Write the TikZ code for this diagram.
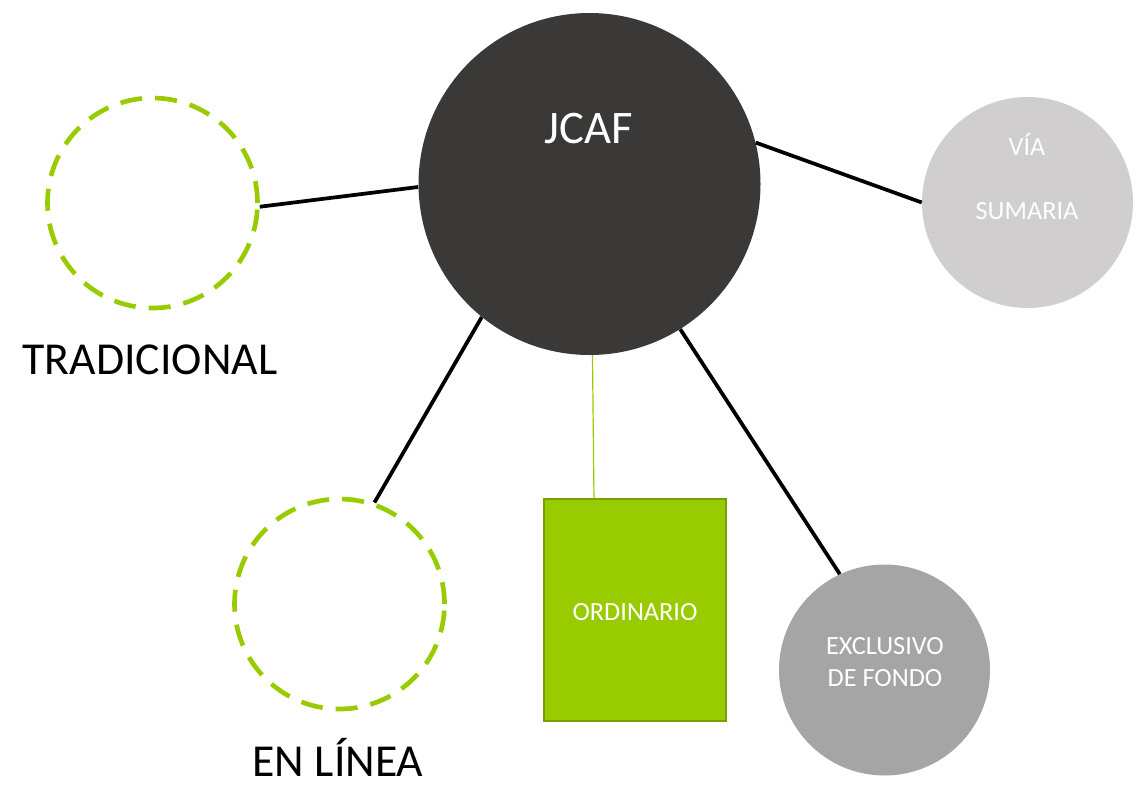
\documentclass[tikz,border=0pt]{standalone}
\usepackage{fontspec}
\setmainfont{Carlito}
\usetikzlibrary{calc}
\definecolor{darkc}{HTML}{3A3938}
\definecolor{lightg}{HTML}{D0CECE}
\definecolor{midg}{HTML}{A5A5A5}
\definecolor{grn}{HTML}{99CC00}
\definecolor{grnd}{HTML}{77A000}
\tikzset{
  bigc/.style={circle, fill=darkc, inner sep=0pt, minimum size=256.5pt},
  dashc/.style={circle, draw=grn, line width=3.5pt, dash pattern=on 16.5pt off 9.8pt, inner sep=0pt, minimum size=157.5pt},
  grayc/.style={circle, inner sep=0pt, minimum size=158.25pt},
  ordbox/.style={rectangle, fill=grn, draw=grnd, line width=1.5pt, inner sep=0pt, minimum width=136.5pt, minimum height=166.5pt},
  bigtxt/.style={font=\fontsize{34.3}{40}\selectfont, anchor=base, inner sep=0pt},
  smalltxt/.style={font=\fontsize{19.7}{24}\selectfont, anchor=base, inner sep=0pt, text=white},
  conn/.style={line width=2.8pt, black},
}
\begin{document}
\begin{tikzpicture}[x=0.75pt, y=-0.75pt]
\useasboundingbox (0,0) rectangle (1141,785);
% nodes
\node[bigc] (jcaf) at (589.5,184) {};
\node[bigtxt, text=white, font=\fontsize{35}{40}\selectfont] (jcaft) at (589,143) {JCAF};
\node[dashc] (trad) at (152.5,203) {};
\node[bigtxt] (tradt) at (150,374) {TRADICIONAL};
\node[dashc] (linea) at (339.5,604) {};
\node[bigtxt] (lineat) at (338,776) {EN LÍNEA};
\node[grayc, fill=lightg] (via) at (1027.5,202.5) {};
\node[smalltxt] (viat1) at (1027,155) {VÍA};
\node[smalltxt] (viat2) at (1027,219) {SUMARIA};
\node[grayc, fill=midg] (excl) at (884.5,670) {};
\node[smalltxt] (exclt1) at (885,654) {EXCLUSIVO};
\node[smalltxt] (exclt2) at (885,686) {DE FONDO};
\node[ordbox] (ord) at (635,610) {};
\node[smalltxt] (ordt) at (635,620) {ORDINARIO};
% connectors
\draw[conn] (jcaf.181.3) -- (trad.-2.7);
\draw[conn] (jcaf.14.8) -- (via.180);
\draw[conn] (jcaf.231.8) -- (linea.71.8);
\draw[conn] (jcaf.-58.5) -- (excl.115.6);
\draw[grn, line width=0.9pt] (jcaf.-89.5) -- ($(ord.north west)!0.277!(ord.north east)$);
\end{tikzpicture}
\end{document}
